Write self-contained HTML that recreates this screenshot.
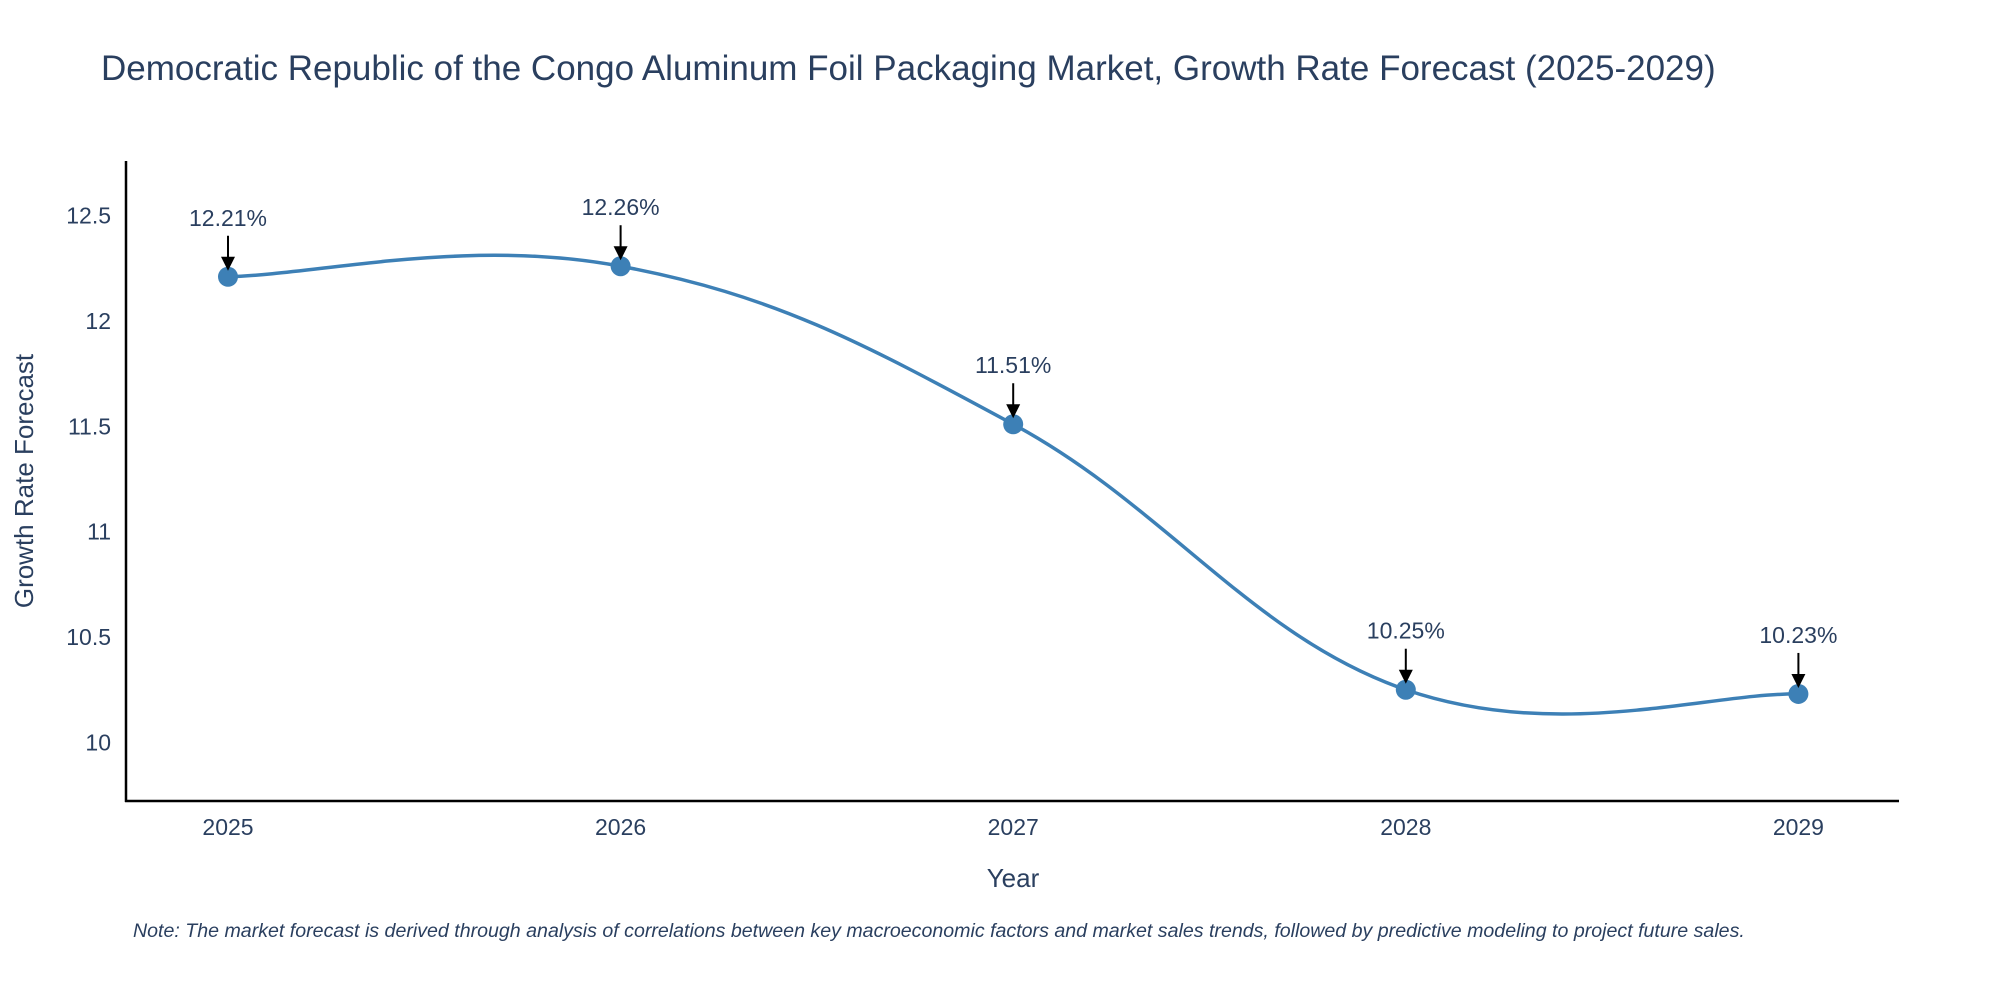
<!DOCTYPE html>
<html><head><meta charset="utf-8"><style>
body{margin:0;background:#fff;}
svg{display:block;font-family:"Liberation Sans",sans-serif;}
</style></head><body>
<svg id="chart" width="2000" height="1000" viewBox="0 0 2000 1000">
<text x="101" y="80" font-size="35" fill="#2a3f5f">Democratic Republic of the Congo Aluminum Foil Packaging Market, Growth Rate Forecast (2025-2029)</text>
<g id="yticks"></g>
<g id="xticks"></g>
<line x1="126" y1="161" x2="126" y2="802" stroke="#000" stroke-width="2.5"/>
<line x1="125" y1="801" x2="1899" y2="801" stroke="#000" stroke-width="2.5"/>
<text transform="translate(33,481) rotate(-90)" text-anchor="middle" font-size="26" fill="#2a3f5f">Growth Rate Forecast</text>
<text x="1013" y="887" text-anchor="middle" font-size="26" fill="#2a3f5f">Year</text>
<g id="series"></g>
<text x="133" y="937" font-size="19.6" font-style="italic" fill="#2a3f5f">Note: The market forecast is derived through analysis of correlations between key macroeconomic factors and market sales trends, followed by predictive modeling to project future sales.</text>
</svg>
<script>
const years = [2025, 2026, 2027, 2028, 2029];
const rates = [12.21, 12.26, 11.51, 10.25, 10.23];
const labels = ["12.21%", "12.26%", "11.51%", "10.25%", "10.23%"];
const yTickVals = [10, 10.5, 11, 11.5, 12, 12.5];
const yTickLabels = ["10", "10.5", "11", "11.5", "12", "12.5"];

const NS = "http://www.w3.org/2000/svg";
function X(v){ return 228 + (v - 2025) * 392.6; }
function Y(v){ return 742.4 - (v - 10) * 210.7; }
function mk(tag, attrs, parent){ const e = document.createElementNS(NS, tag); for (const k in attrs) e.setAttribute(k, attrs[k]); parent.appendChild(e); return e; }

const yg = document.getElementById('yticks');
yTickVals.forEach((v, i) => {
  const t = mk('text', {x: 111, y: Y(v) + 8, 'text-anchor': 'end', 'font-size': 23, fill: '#2a3f5f'}, yg);
  
  
  t.textContent = yTickLabels[i];
});
const xg = document.getElementById('xticks');
years.forEach(v => {
  const t = mk('text', {x: X(v), y: 835, 'text-anchor': 'middle', 'font-size': 23, fill: '#2a3f5f'}, xg);
  
  
  t.textContent = String(v);
});

const sg = document.getElementById('series');
const pts = years.map((y, i) => [X(y), Y(rates[i])]);
let d = `M${pts[0][0]},${pts[0][1]}`;
const s = 0.3;
for (let i = 0; i < pts.length - 1; i++) {
  const p0 = pts[Math.max(0, i - 1)], p1 = pts[i], p2 = pts[i + 1], p3 = pts[Math.min(pts.length - 1, i + 2)];
  const f1 = i === 0 ? 0.6 : 0.5, f2 = i === pts.length - 2 ? 0.6 : 0.5;
  const c1 = [p1[0] + (p2[0] - p0[0]) * s * f1 * 1.3, p1[1] + (p2[1] - p0[1]) * s * f1 * 1.3];
  const c2 = [p2[0] - (p3[0] - p1[0]) * s * f2 * 1.3, p2[1] - (p3[1] - p1[1]) * s * f2 * 1.3];
  d += ` C${c1[0]},${c1[1]} ${c2[0]},${c2[1]} ${p2[0]},${p2[1]}`;
}
const line = mk('path', {d: d, fill: 'none', stroke: '#3d80b6', 'stroke-width': 3.5}, sg);


pts.forEach((p, i) => {
  const c = mk('circle', {cx: p[0], cy: p[1], r: 10, fill: '#3d80b6'}, sg);
  
  
  const a = mk('line', {x1: p[0], y1: p[1] - 41, x2: p[0], y2: p[1] - 16, stroke: '#000', 'stroke-width': 2}, sg);
  
  
  const h = mk('polygon', {points: `${p[0]-7},${p[1]-20} ${p[0]+7},${p[1]-20} ${p[0]},${p[1]-6}`, fill: '#000'}, sg);
  
  
  const t = mk('text', {x: p[0], y: p[1] - 51, 'text-anchor': 'middle', 'font-size': 23, fill: '#2a3f5f'}, sg);
  
  
  t.textContent = labels[i];
});
</script>
</body></html>
